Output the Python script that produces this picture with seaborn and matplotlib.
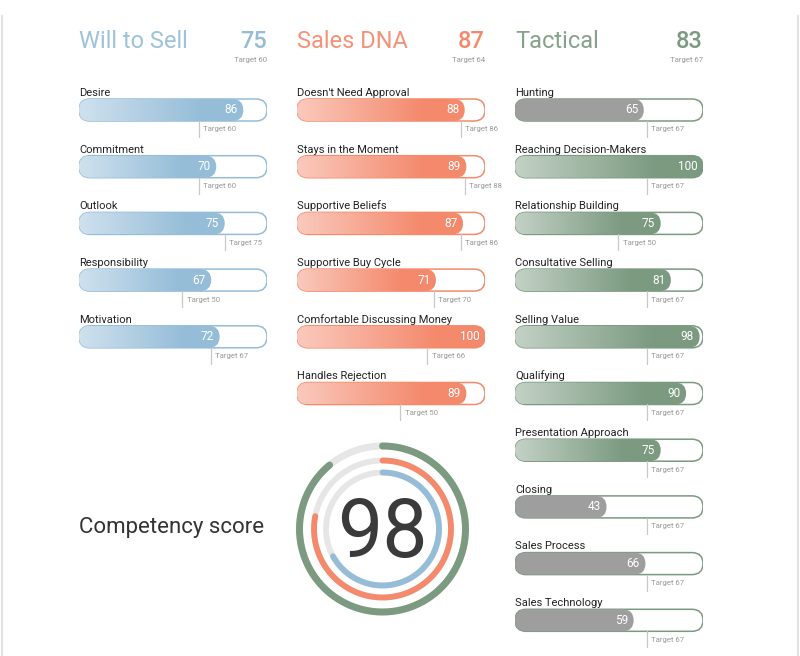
import numpy as np
import matplotlib
matplotlib.use('Agg')
import matplotlib.pyplot as plt
import matplotlib.colors as mcolors
from matplotlib.patches import FancyBboxPatch
from matplotlib.lines import Line2D
import seaborn as sns

# groups
group_names = ['Will to Sell', 'Sales DNA', 'Tactical']
group_scores = [75, 87, 83]
group_targets = [60, 64, 67]
group_colors = ['#95bdd8', '#f4896c', '#7b9a80']

wts_labels = ['Desire', 'Commitment', 'Outlook', 'Responsibility', 'Motivation']
wts_values = [86, 70, 75, 67, 72]
wts_targets = [60, 60, 75, 50, 67]

dna_labels = ["Doesn't Need Approval", 'Stays in the Moment', 'Supportive Beliefs',
              'Supportive Buy Cycle', 'Comfortable Discussing Money', 'Handles Rejection']
dna_values = [88, 89, 87, 71, 100, 89]
dna_targets = [86, 88, 86, 70, 66, 50]

tac_labels = ['Hunting', 'Reaching Decision-Makers', 'Relationship Building',
              'Consultative Selling', 'Selling Value', 'Qualifying',
              'Presentation Approach', 'Closing', 'Sales Process', 'Sales Technology']
tac_values = [65, 100, 75, 81, 98, 90, 75, 43, 66, 59]
tac_targets = [67, 67, 50, 67, 67, 67, 67, 67, 67, 67]

competency = 98
ring_values = [89, 78, 67]   # outer (tactical), middle (dna), inner (will to sell)

sns.set_theme(style='white')
plt.rcParams['font.family'] = ['Roboto', 'DejaVu Sans']

W, H = 800, 656
fig = plt.figure(figsize=(W / 100, H / 100), dpi=100)
fig.patch.set_facecolor('white')

GRAY = '#9e9e9e'
XMIN = -100 / 9          # value scale starts a bit left of zero
ROW_PX = 56.7
BAR_PX = 22
COL_X = [79, 297, 515]
COL_W = 188
top_px = 110 - ROW_PX / 2
n_rows = 10


def lighten(c, amt):
    r = np.array(mcolors.to_rgb(c))
    return tuple(r + (1 - r) * amt)


columns = [(wts_labels, wts_values, wts_targets),
           (dna_labels, dna_values, dna_targets),
           (tac_labels, tac_values, tac_targets)]

for ci, (labels, values, targets) in enumerate(columns):
    color = group_colors[ci]
    ax = fig.add_axes([COL_X[ci] / W, 1 - (top_px + ROW_PX * n_rows) / H,
                       COL_W / W, ROW_PX * n_rows / H])
    ax.set_axis_off()
    ax.set_xlim(XMIN, 100)
    ax.set_ylim(n_rows - 0.5, -0.5)

    px_x = COL_W / (100 - XMIN)
    m_asp = px_x / ROW_PX
    h = BAR_PX / ROW_PX
    rs = BAR_PX / 2 / px_x

    # gradient ramp, light on the left, full colour near the end
    light = lighten(color, 0.55)
    cmap = mcolors.LinearSegmentedColormap.from_list(
        'g', [(0, light), (0.75, color), (1, color)])
    grad = cmap(np.linspace(0, 1, 256)).reshape(1, 256, 4)
    grad = np.concatenate([grad, grad], axis=0)

    for i, (lab, v, t) in enumerate(zip(labels, values, targets)):
        track = FancyBboxPatch((XMIN, i - h / 2), 100 - XMIN, h,
                               boxstyle=f'round,pad=0,rounding_size={rs}',
                               mutation_aspect=m_asp, facecolor='white',
                               edgecolor=color, lw=1.1, zorder=1)
        ax.add_patch(track)
        fill = FancyBboxPatch((XMIN, i - h / 2), v - XMIN, h,
                              boxstyle=f'round,pad=0,rounding_size={rs}',
                              mutation_aspect=m_asp, facecolor='none',
                              edgecolor='none', zorder=2)
        ax.add_patch(fill)
        if v >= t:
            im = ax.imshow(grad, extent=(XMIN, v, i + h / 2, i - h / 2),
                           aspect='auto', interpolation='bilinear', zorder=2)
            im.set_clip_path(fill)
        else:
            fill.set_facecolor(GRAY)
        ax.annotate(str(v), xy=(v, i), xytext=(-4, 0), textcoords='offset points',
                    ha='right', va='center', color='white', fontsize=8.5, zorder=4)
        ax.text(XMIN, i - h / 2 - 0.02, lab, ha='left', va='bottom',
                fontsize=8, color='#222222')
        # target marker
        ax.plot([t, t], [i + h / 2, i + h / 2 + 16 / ROW_PX], color='#c8c8c8',
                lw=0.9, zorder=1, clip_on=False)
        ax.annotate(f'Target {t}', xy=(t, i + h / 2 + 8.5 / ROW_PX), xytext=(3, 0),
                    textcoords='offset points', ha='left', va='center',
                    fontsize=5.6, color='#9a9a9a')

    ax.text(XMIN, (42 - 110) / ROW_PX, group_names[ci], ha='left', va='center',
            fontsize=17, color=lighten(color, 0.08))
    ax.text(100, (42 - 110) / ROW_PX, str(group_scores[ci]), ha='right', va='center',
            fontsize=17, color=color, fontweight='medium')
    ax.text(100, (60 - 110) / ROW_PX, f'Target {group_targets[ci]}', ha='right',
            va='center', fontsize=5.6, color='#9a9a9a')

# competency rings
cx, cy, R = 382.5, 529, 90
pax = fig.add_axes([(cx - R) / W, 1 - (cy + R) / H, 2 * R / W, 2 * R / H],
                   projection='polar')
pax.set_theta_zero_location('N')
pax.set_theta_direction(-1)
pax.set_ylim(0, 100)
pax.set_axis_off()
ring_r = [83 / 0.9, 68.5 / 0.9, 56.5 / 0.9]
ring_colors = [group_colors[2], group_colors[1], group_colors[0]]
full = np.linspace(0, 2 * np.pi, 400)
for r, val, c, lw in zip(ring_r, ring_values, ring_colors, [5.0, 4.2, 4.2]):
    pax.plot(full, np.full_like(full, r), color='#e6e6e6', lw=lw, zorder=1)
    th = np.linspace(0, 2 * np.pi * val / 100, 300)
    pax.plot(th, np.full_like(th, r), color=c, lw=lw, solid_capstyle='round', zorder=2)
pax.annotate(str(competency), xy=(0, 0), xytext=(0, -20.5), textcoords='offset points',
             ha='center', va='baseline', fontsize=58, color='#3a3a3a')

fig.text(79 / W, 1 - 527 / H, 'Competency score', ha='left', va='center',
         fontsize=16, color='#333333')

# card border
for x in (1.5, 797.5):
    fig.add_artist(Line2D([x / W, x / W], [0, 1 - 16 / H], transform=fig.transFigure,
                          color='#e2e2e2', lw=1.5))

fig.savefig('out.png', dpi=100, facecolor='white')
